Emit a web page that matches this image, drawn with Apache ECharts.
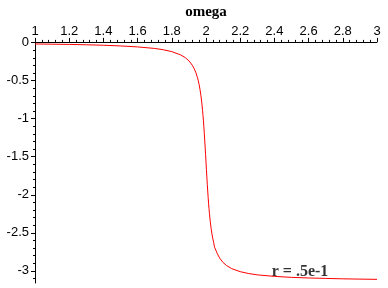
<!DOCTYPE html>
<html>
<head>
<meta charset="utf-8">
<script src="https://cdn.jsdelivr.net/npm/echarts@6/dist/echarts.min.js"></script>
<style>html,body{margin:0;padding:0;background:#fff;}#c{width:388px;height:288px;}</style>
</head>
<body>
<div id="c"></div>
<script>
var omega = [1.0,1.1,1.2,1.3,1.4,1.5,1.6,1.7,1.75,1.8,1.85,1.88,1.9,1.92,1.93,1.94,1.95,1.955,1.96,1.965,1.97,1.975,1.98,1.9825,1.985,1.9875,1.99,1.9925,1.995,1.9975,2.0,2.0025,2.005,2.0075,2.01,2.0125,2.015,2.0175,2.02,2.025,2.03,2.035,2.04,2.045,2.05,2.055,2.06,2.065,2.07,2.08,2.1,2.12,2.15,2.2,2.25,2.3,2.4,2.5,2.6,2.7,2.8,2.9,3.0];
var phase = [-0.017,-0.020,-0.023,-0.028,-0.034,-0.043,-0.056,-0.076,-0.093,-0.118,-0.159,-0.199,-0.239,-0.297,-0.338,-0.389,-0.459,-0.502,-0.554,-0.616,-0.691,-0.782,-0.894,-0.958,-1.029,-1.106,-1.190,-1.279,-1.373,-1.471,-1.571,-1.670,-1.768,-1.862,-1.950,-2.033,-2.110,-2.180,-2.243,-2.353,-2.443,-2.517,-2.579,-2.630,-2.690,-2.710,-2.741,-2.769,-2.793,-2.833,-2.891,-2.930,-2.971,-3.011,-3.036,-3.053,-3.073,-3.086,-3.094,-3.100,-3.105,-3.109,-3.112];
var yTickLabels = [0,-0.5,-1,-1.5,-2,-2.5,-3];
var yMinorTicks = [0,-0.1,-0.2,-0.3,-0.4,-0.5,-0.6,-0.7,-0.8,-0.9,-1,-1.1,-1.2,-1.3,-1.4,-1.5,-1.6,-1.7,-1.8,-1.9,-2,-2.1,-2.2,-2.3,-2.4,-2.5,-2.6,-2.7,-2.8,-2.9,-3,-3.1];
var xName = 'omega';
var noteText = 'r = .5e-1';
var notePos = [2.55, -3.02];

var chart = echarts.init(document.getElementById('c'), null, {renderer:'canvas'});
var lineData = omega.map(function(w,i){return [w, phase[i]];});
var labelFont = {fontFamily:'Liberation Sans', fontSize:13, color:'#000'};
chart.setOption({
  animation:false,
  backgroundColor:'#fff',
  grid:{left:35, right:11, top:32, bottom:5, containLabel:false},
  xAxis:{
    type:'value', min:1, max:3, interval:0.2, position:'top',
    name:xName, nameLocation:'middle', nameGap:20,
    nameTextStyle:{fontFamily:'Liberation Serif', fontWeight:'bold', fontSize:15, color:'#000'},
    axisLine:{onZero:false, lineStyle:{color:'#000', width:1}},
    axisTick:{show:true, inside:false, length:4, lineStyle:{color:'#000'}},
    minorTick:{show:true, splitNumber:5, length:2, lineStyle:{color:'#000'}},
    splitLine:{show:false}, minorSplitLine:{show:false},
    axisLabel:Object.assign({margin:4, formatter:function(v){return String(Math.round(v*10)/10);}}, labelFont)
  },
  yAxis:[{
    type:'value', min:-3.16, max:0.01, position:'left',
    axisLine:{onZero:false, lineStyle:{color:'#000', width:1}},
    axisTick:{show:true, inside:false, length:4, customValues:yTickLabels, lineStyle:{color:'#000'}},
    splitLine:{show:false},
    axisLabel:Object.assign({margin:6, customValues:yTickLabels,
      formatter:function(v){ return String(v); }
    }, labelFont)
  },{
    type:'value', min:-3.16, max:0.01, position:'left',
    axisLine:{show:false},
    axisTick:{show:true, inside:false, length:2, customValues:yMinorTicks, lineStyle:{color:'#000'}},
    axisLabel:{show:false}, splitLine:{show:false}
  }],
  series:[{
    type:'line', data:lineData, showSymbol:false, smooth:false,
    lineStyle:{color:'#ff0000', width:1}, itemStyle:{color:'#ff0000'}
  },{
    type:'scatter', data:[notePos], symbolSize:0, silent:true,
    label:{show:true, position:'inside', formatter:noteText,
      fontFamily:'Liberation Serif', fontWeight:'bold', fontSize:16, color:'#000'}
  }]
});
</script>
</body>
</html>
